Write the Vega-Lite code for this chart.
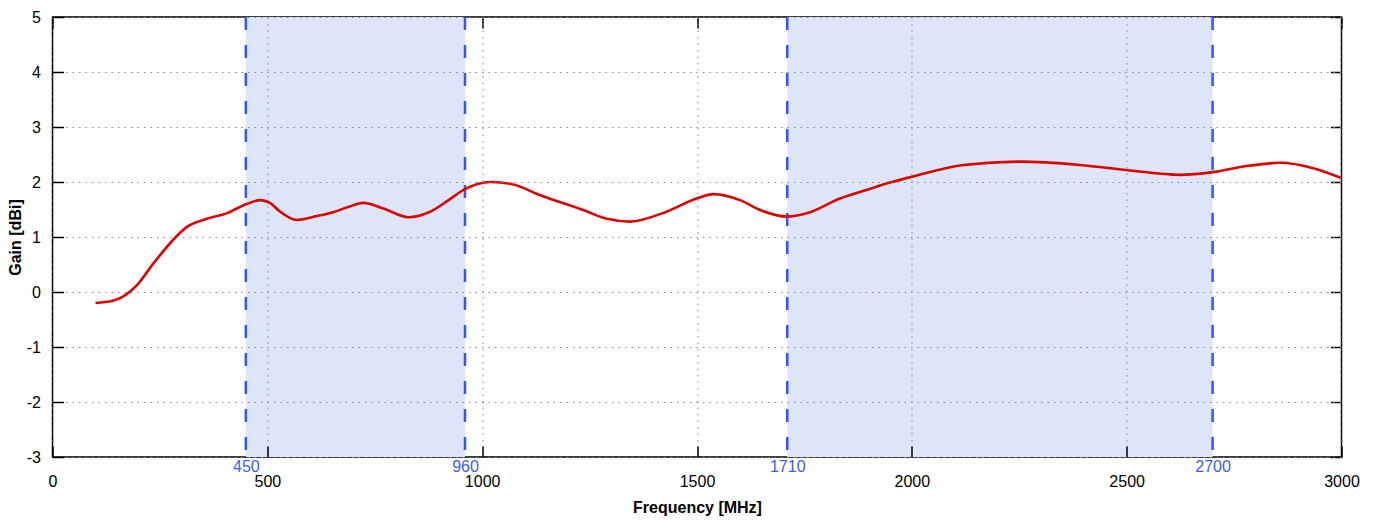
{
  "$schema": "https://vega.github.io/schema/vega-lite/v6.json",
  "width": 1289,
  "height": 440,
  "autosize": {"type": "none"},
  "padding": {"left": 52.5, "top": 17, "right": 36.5, "bottom": 64},
  "config": {
    "font": "Liberation Sans",
    "view": {"stroke": "black", "strokeWidth": 1.5},
    "axis": {"labelFontSize": 16, "labelColor": "black", "tickColor": "black", "tickWidth": 1.5, "domain": false, "titleColor": "black", "labelFlush": false}
  },
  "datasets": {
    "gain": [
      {"f": 100, "g": -0.2}, {"f": 140, "g": -0.16}, {"f": 165, "g": -0.08}, {"f": 196, "g": 0.12},
      {"f": 235, "g": 0.52}, {"f": 281, "g": 0.95}, {"f": 312, "g": 1.18}, {"f": 359, "g": 1.33},
      {"f": 405, "g": 1.43}, {"f": 452, "g": 1.6}, {"f": 483, "g": 1.67}, {"f": 506, "g": 1.62},
      {"f": 530, "g": 1.46}, {"f": 568, "g": 1.31}, {"f": 615, "g": 1.38}, {"f": 653, "g": 1.45},
      {"f": 690, "g": 1.55}, {"f": 723, "g": 1.62}, {"f": 770, "g": 1.52}, {"f": 828, "g": 1.36},
      {"f": 879, "g": 1.46}, {"f": 920, "g": 1.66}, {"f": 960, "g": 1.87}, {"f": 1020, "g": 2.0},
      {"f": 1070, "g": 1.96}, {"f": 1135, "g": 1.76}, {"f": 1235, "g": 1.49}, {"f": 1290, "g": 1.33},
      {"f": 1344, "g": 1.28}, {"f": 1429, "g": 1.46}, {"f": 1499, "g": 1.7}, {"f": 1538, "g": 1.78},
      {"f": 1600, "g": 1.67}, {"f": 1647, "g": 1.49}, {"f": 1709, "g": 1.37}, {"f": 1755, "g": 1.43},
      {"f": 1833, "g": 1.7}, {"f": 1900, "g": 1.87}, {"f": 1949, "g": 1.99}, {"f": 2003, "g": 2.1},
      {"f": 2120, "g": 2.31}, {"f": 2252, "g": 2.37}, {"f": 2391, "g": 2.31}, {"f": 2508, "g": 2.21},
      {"f": 2624, "g": 2.13}, {"f": 2701, "g": 2.18}, {"f": 2779, "g": 2.29}, {"f": 2857, "g": 2.35},
      {"f": 2934, "g": 2.25}, {"f": 3000, "g": 2.07}
    ],
    "bands": [{"start": 450, "end": 960}, {"start": 1710, "end": 2700}],
    "edges": [{"f": 450}, {"f": 960}, {"f": 1710}, {"f": 2700}]
  },
  "layer": [
    {
      "data": {"name": "bands"},
      "mark": {"type": "rect", "color": "#dde6f8"},
      "encoding": {
        "x": {"field": "start", "type": "quantitative", "scale": {"domain": [0, 3000], "nice": false},
          "axis": {"orient": "bottom", "values": [0, 500, 1000, 1500, 2000, 2500, 3000], "labelExpr": "'' + datum.value",
            "tickSize": -11, "labelPadding": 27.2, "grid": true, "gridDash": [1.5, 5], "gridColor": "#888", "gridWidth": 1,
            "zindex": 1, "title": "Frequency [MHz]", "titleFontSize": 16, "titleFontWeight": "bold", "titlePadding": 10}},
        "x2": {"field": "end"},
        "y": {"datum": 5, "type": "quantitative", "scale": {"domain": [-3, 5], "nice": false},
          "axis": {"orient": "right", "values": [-3, -2, -1, 0, 1, 2, 3, 4, 5], "labels": false, "tickSize": -11, "grid": false, "title": null}},
        "y2": {"datum": -3}
      }
    },
    {
      "data": {"name": "edges"},
      "mark": {"type": "rule", "color": "#3355ff", "strokeDash": [13, 15], "strokeWidth": 2.5},
      "encoding": {
        "x": {"field": "f", "type": "quantitative",
          "axis": {"orient": "bottom", "values": [450, 960, 1710, 2700], "labelExpr": "'' + datum.value", "ticks": false, "labelPadding": 1.5,
            "labelColor": "#3b5ef0", "grid": false, "title": null}}
      }
    },
    {
      "data": {"name": "gain"},
      "mark": {"type": "line", "color": "#dd0000", "strokeWidth": 2.6, "interpolate": "monotone"},
      "encoding": {
        "x": {"field": "f", "type": "quantitative",
          "axis": {"orient": "top", "values": [0, 500, 1000, 1500, 2000, 2500, 3000], "labels": false, "tickSize": -11, "grid": false, "title": null}},
        "y": {"field": "g", "type": "quantitative",
          "axis": {"orient": "left", "values": [-3, -2, -1, 0, 1, 2, 3, 4, 5], "labelExpr": "'' + datum.value", "tickSize": -11, "labelPadding": 23,
            "grid": true, "gridDash": [1.5, 5], "gridColor": "#888", "gridWidth": 1, "zindex": 1,
            "title": "Gain [dBi]", "titleFontSize": 16, "titleFontWeight": "bold", "titlePadding": 3}}
      }
    }
  ],
  "resolve": {"axis": {"x": "independent", "y": "independent"}}
}
